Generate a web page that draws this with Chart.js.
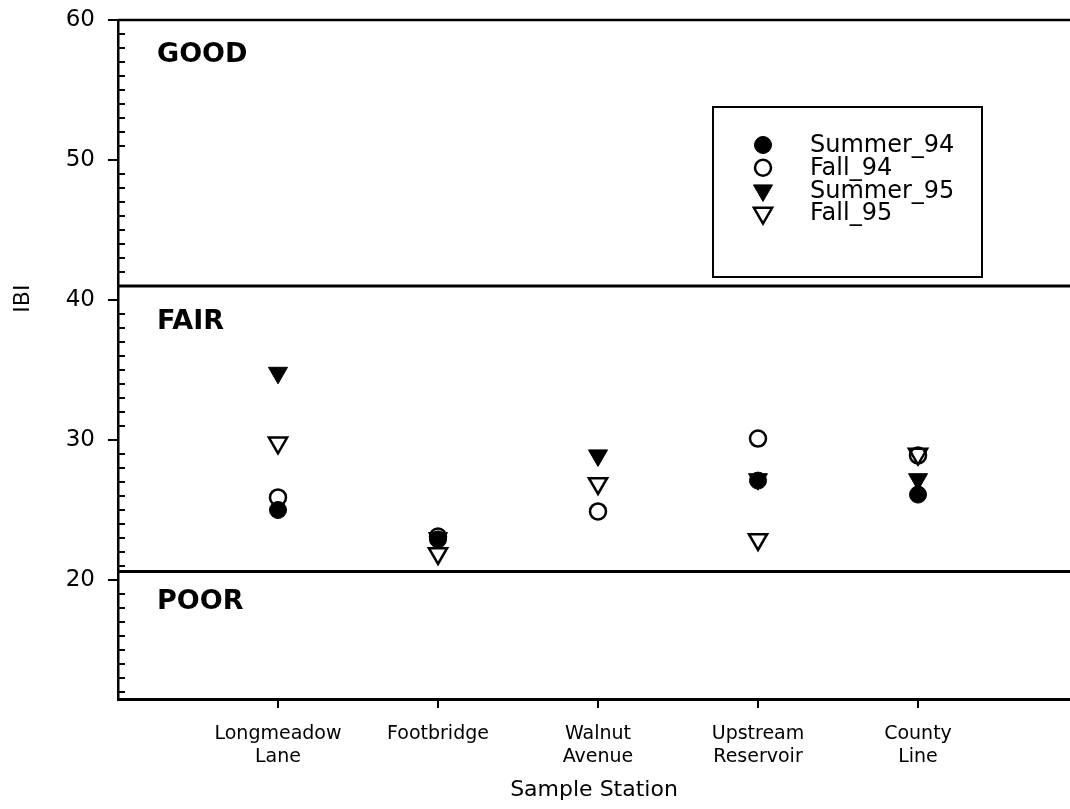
<!DOCTYPE html>
<html>
<head>
<meta charset="utf-8">
<script src="https://cdn.jsdelivr.net/npm/chart.js@4/dist/chart.umd.min.js"></script>
<style>
  body { margin: 0; background: #fff; }
  #wrap { width: 1070px; height: 809px; }
</style>
</head>
<body>
<div id="wrap"><canvas id="myChart" width="1070" height="809"></canvas></div>
<script>
// stations along the x axis (multi-line tick labels)
const STATIONS = [['Longmeadow', 'Lane'], ['Footbridge'], ['Walnut', 'Avenue'], ['Upstream', 'Reservoir'], ['County', 'Line']];
const STATION_POS = [1, 2, 3, 4, 5];

// IBI values
const SUMMER_94 = [25, 22.9, null, 27.1, 26.1];
const FALL_94 = [25.9, 23.1, 24.9, 30.1, 28.9];
const SUMMER_95 = [34.8, 23, 28.9, 27.2, 27.2];
const FALL_95 = [29.8, 21.9, 26.9, 22.9, 29];

const Y_TICKS = [20, 30, 40, 50, 60];
const ZONE_NAMES = ['GOOD', 'FAIR', 'POOR'];
const ZONE_LABEL_Y = [57.5, 38.4, 18.4];
const ZONE_BREAKS = [41, 20.6];

const FONT = 'DejaVu Sans';

function toPoints(values) {
  let pts = [];
  values.forEach((v, i) => {
    if (v !== null) pts.push({ x: STATION_POS[i], y: v });
  });
  return pts;
}

let datasets = [
  { label: 'Summer_94', data: toPoints(SUMMER_94), pointStyle: 'circle', pointRadius: 8.5, pointBorderWidth: 1,
    pointBackgroundColor: '#000', pointBorderColor: '#000', pointRotation: 0 },
  { label: 'Fall_94', data: toPoints(FALL_94), pointStyle: 'circle', pointRadius: 8, pointBorderWidth: 2.5,
    pointBackgroundColor: 'rgba(255,255,255,0)', pointBorderColor: '#000', pointRotation: 0 },
  { label: 'Summer_95', data: toPoints(SUMMER_95), pointStyle: 'triangle', pointRadius: 11, pointBorderWidth: 1,
    pointBackgroundColor: '#000', pointBorderColor: '#000', pointRotation: 180 },
  { label: 'Fall_95', data: toPoints(FALL_95), pointStyle: 'triangle', pointRadius: 10.5, pointBorderWidth: 2.5,
    pointBackgroundColor: 'rgba(255,255,255,0)', pointBorderColor: '#000', pointRotation: 180 }
];

// zone lines, zone names, minor ticks, top border, y title and the boxed legend
const decorations = {
  id: 'decorations',
  beforeDatasetsDraw(chart) {
    const ctx = chart.ctx;
    const area = chart.chartArea;
    const y = chart.scales.y;
    ctx.save();
    ctx.strokeStyle = '#000';

    // top border
    ctx.lineWidth = 2.5;
    ctx.beginPath();
    ctx.moveTo(area.left, area.top);
    ctx.lineTo(area.right, area.top);
    ctx.stroke();

    // zone boundaries
    ctx.lineWidth = 3;
    ZONE_BREAKS.forEach(v => {
      let py = y.getPixelForValue(v);
      ctx.beginPath();
      ctx.moveTo(area.left, py);
      ctx.lineTo(area.right, py);
      ctx.stroke();
    });

    // minor ticks inside the y axis
    ctx.lineWidth = 2;
    for (let v = Math.ceil(y.min); v < y.max; v++) {
      if (v % 10 === 0) continue;
      let py = y.getPixelForValue(v);
      ctx.beginPath();
      ctx.moveTo(area.left, py);
      ctx.lineTo(area.left + 7, py);
      ctx.stroke();
    }

    // zone names
    ctx.fillStyle = '#000';
    ctx.font = 'bold 27px "' + FONT + '"';
    ctx.textAlign = 'left';
    ctx.textBaseline = 'middle';
    ZONE_NAMES.forEach((name, i) => {
      ctx.fillText(name, area.left + 39, y.getPixelForValue(ZONE_LABEL_Y[i]));
    });

    // y axis title, placed level with the FAIR band like the original
    ctx.save();
    ctx.translate(23, y.getPixelForValue(40.1));
    ctx.rotate(-Math.PI / 2);
    ctx.font = '22px "' + FONT + '"';
    ctx.textAlign = 'center';
    ctx.fillText('IBI', 0, 0);
    ctx.restore();
    ctx.restore();
  },
  afterDraw(chart) {
    const ctx = chart.ctx;
    const box = { left: 713, top: 107, width: 269, height: 170 };
    ctx.save();
    ctx.fillStyle = '#fff';
    ctx.fillRect(box.left, box.top, box.width, box.height);
    ctx.strokeStyle = '#000';
    ctx.lineWidth = 2;
    ctx.strokeRect(box.left, box.top, box.width, box.height);

    ctx.font = '24px "' + FONT + '"';
    ctx.textAlign = 'left';
    ctx.textBaseline = 'middle';
    chart.data.datasets.forEach((ds, i) => {
      let rowY = 145 + i * 22.7;
      ctx.fillStyle = ds.pointBackgroundColor;
      ctx.strokeStyle = ds.pointBorderColor;
      ctx.lineWidth = ds.pointBorderWidth;
      Chart.helpers.drawPoint(ctx, {
        pointStyle: ds.pointStyle,
        rotation: ds.pointRotation,
        radius: ds.pointRadius,
        borderWidth: ds.pointBorderWidth
      }, 763, rowY);
      ctx.fillStyle = '#000';
      ctx.fillText(ds.label, 810, rowY + 1);
    });
    ctx.restore();
  }
};

const ctx = document.getElementById('myChart');
const chart = new Chart(ctx, {
  type: 'scatter',
  data: { datasets: datasets },
  plugins: [decorations],
  options: {
    responsive: false,
    animation: false,
    layout: { autoPadding: false, padding: { top: 20, left: 0, right: 0, bottom: 0 } },
    plugins: {
      legend: { display: false },
      tooltip: { enabled: false }
    },
    scales: {
      x: {
        type: 'linear',
        min: 0,
        max: 5.95,
        afterBuildTicks(scale) {
          scale.ticks = STATION_POS.map(v => ({ value: v }));
        },
        afterFit(scale) {
          scale.height = 110;
          scale.paddingLeft = 0;
          scale.paddingRight = 0;
        },
        grid: { drawOnChartArea: false, drawTicks: true, tickLength: 9, color: '#000', lineWidth: 2 },
        border: { display: true, color: '#000', width: 3 },
        ticks: {
          color: '#000',
          padding: 14,
          maxRotation: 0,
          font: { family: FONT, size: 19, lineHeight: 1.22 },
          callback: function(value) {
            let i = STATION_POS.indexOf(value);
            return i >= 0 ? STATIONS[i] : '';
          }
        },
        title: {
          display: true,
          text: 'Sample Station',
          color: '#000',
          font: { family: FONT, size: 22 },
          padding: { top: 0, bottom: 6 }
        }
      },
      y: {
        min: 11.5,
        max: 60,
        afterBuildTicks(scale) {
          scale.ticks = Y_TICKS.map(v => ({ value: v }));
        },
        afterFit(scale) {
          scale.width = 118;
          scale.paddingTop = 0;
          scale.paddingBottom = 0;
        },
        grid: { drawOnChartArea: false, drawTicks: true, tickLength: 10, color: '#000', lineWidth: 2 },
        border: { display: true, color: '#000', width: 2.5 },
        ticks: {
          color: '#000',
          padding: 13,
          font: { family: FONT, size: 23 }
        }
      }
    }
  }
});
</script>
</body>
</html>
